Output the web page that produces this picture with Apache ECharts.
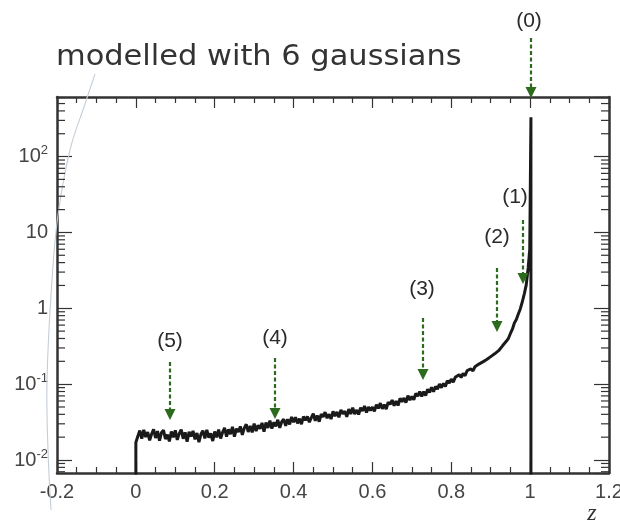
<!DOCTYPE html>
<html>
<head>
<meta charset="utf-8">
<script src="https://cdn.jsdelivr.net/npm/echarts@6/dist/echarts.min.js"></script>
<style>
html,body{margin:0;padding:0;background:#fff;}
#chart{width:620px;height:527px;}
</style>
</head>
<body>
<div id="chart"></div>
<script>
// ---- data ----
const zLow = [0.000,0.005,0.010,0.015,0.020,0.025,0.030,0.035,0.040,0.045,0.050,0.055,0.060,0.065,0.070,0.075,0.080,0.085,0.090,0.095,
0.100,0.105,0.110,0.115,0.120,0.125,0.130,0.135,0.140,0.145,0.150,0.155,0.160,0.165,0.170,0.175,0.180,0.185,0.190,0.195,
0.200,0.205,0.210,0.215,0.220,0.225,0.230,0.235,0.240,0.245,0.250,0.255,0.260,0.265,0.270,0.275,0.280,0.285,0.290,0.295,
0.300,0.305,0.310,0.315,0.320,0.325,0.330,0.335,0.340,0.345,0.350,0.355,0.360,0.365,0.370,0.375,0.380,0.385,0.390,0.395,
0.400,0.405,0.410,0.415,0.420,0.425,0.430,0.435,0.440,0.445,0.450,0.455,0.460,0.465,0.470,0.475,0.480,0.485,0.490,0.495,
0.500,0.505,0.510,0.515,0.520,0.525,0.530,0.535,0.540,0.545,0.550,0.555,0.560,0.565,0.570,0.575,0.580,0.585,0.590,0.595,0.600];
const densityLow = [0.0170,0.0206,0.0244,0.0191,0.0250,0.0201,0.0233,0.0182,0.0220,0.0254,
0.0195,0.0240,0.0180,0.0229,0.0248,0.0189,0.0216,0.0176,0.0237,0.0199,
0.0246,0.0184,0.0223,0.0252,0.0191,0.0231,0.0174,0.0235,0.0204,0.0242,
0.0187,0.0227,0.0172,0.0218,0.0244,0.0193,0.0250,0.0197,0.0225,0.0178,
0.0237,
0.0199,0.0251,0.0192,0.0232,0.0265,0.0203,0.0253,0.0219,0.0273,0.0203,
0.0259,0.0234,0.0277,0.0214,0.0263,0.0296,0.0234,0.0282,0.0231,0.0301,
0.0241,0.0287,0.0259,0.0308,0.0237,0.0312,0.0265,0.0331,0.0259,0.0314,
0.0279,0.0339,0.0265,0.0319,0.0344,0.0282,0.0345,0.0295,0.0369,0.0314,
0.0366,0.0304,0.0351,0.0297,0.0374,0.0334,0.0375,0.0315,0.0361,0.0407,
0.0329,0.0386,0.0320,0.0404,0.0371,0.0428,0.0356,0.0401,0.0347,0.0437,
0.0378,0.0430,0.0365,0.0459,0.0406,0.0439,0.0371,0.0469,0.0404,0.0490,
0.0403,0.0456,0.0398,0.0488,0.0442,0.0516,0.0423,0.0498,0.0450,0.0498];
const zMid = [0.605,0.610,0.615,0.620,0.625,0.630,0.635,0.640,0.645,0.650,0.655,0.660,0.665,0.670,0.675,0.680,0.685,0.690,0.695,0.700,
0.705,0.710,0.715,0.720,0.725,0.730,0.735,0.740,0.745,0.750,0.755,0.760,0.765,0.770,0.775,0.780,0.785,0.790,0.795,0.800,
0.805,0.810,0.815,0.820,0.825,0.830,0.835,0.840,0.845,0.850,0.855,0.860,0.865,0.870,0.875,0.880,0.885,0.890,0.895,0.900];
const densityMid = [0.0439,0.0536,0.0479,0.0562,0.0472,0.0536,0.0470,0.0578,0.0543,0.0616,
0.0521,0.0599,0.0523,0.0651,0.0585,0.0657,0.0569,0.0707,0.0617,0.0687,
0.0622,0.0754,0.0694,0.0796,0.0689,0.0797,0.0706,0.0858,0.0780,0.0907,
0.0795,0.0932,0.0859,0.1003,0.0898,0.1021,0.0929,0.1111,0.1035,0.1162,
0.1064,0.1229,0.1160,0.1334,0.1224,0.1383,0.1292,0.1505,0.1421,0.1586,
0.1492,0.1695,0.1622,0.1838,0.1765,0.1966,0.1882,0.2111,0.2087,0.2307];
const zHigh = [0.905,0.910,0.915,0.920,0.925,0.930,0.935,0.940,0.945,0.950,0.955,0.960,0.965,0.970,0.975,0.980,0.985,0.990,0.995,0.999];
const densityHigh = [0.228,0.251,0.252,0.276,0.285,0.320,0.330,0.370,0.402,0.466,0.530,0.640,0.712,0.840,0.980,1.210,1.540,2.020,3.400,6.000];
const zPeak = 1.002;        // delta peak position (0)
const peakDensity = 330;     // height of the peak
const floorDensity = 0.001;  // empty bins (below the axis range)

const xTicks = ['-0.2','0','0.2','0.4','0.6','0.8','1','1.2'];
const yMin = 0.00674, yMax = 610;
const xMin = -0.2, xMax = 1.2;

// annotation labels
const arrowLabels = ['(0)','(1)','(2)','(3)','(4)','(5)'];
const titleText = 'modelled with 6 gaussians';

// ---- build series data ----
const curve = [[0, floorDensity]];
zLow.forEach((z,i)=>curve.push([z, densityLow[i]]));
zMid.forEach((z,i)=>curve.push([z, densityMid[i]]));
zHigh.forEach((z,i)=>curve.push([z, densityHigh[i]]));
curve.push([zPeak, peakDensity]);
curve.push([zPeak, floorDensity]);

// minor log ticks 2..9 x 10^k inside the range
const minorY = [];
for (let e = -3; e <= 2; e++) {
  for (let m = 2; m <= 9; m++) {
    const v = m * Math.pow(10, e);
    if (v > yMin && v < yMax) minorY.push([xMin, v]);
  }
}

function yLabel(value) {
  const l = Math.log10(value);
  const e = Math.round(l);
  if (Math.abs(l - e) > 1e-6) return '';
  if (e === 0) return '1';
  if (e === 1) return '10';
  return '10{s|' + (e < 0 ? '-' + (-e) : e) + '}';
}

const chart = echarts.init(document.getElementById('chart'));
const axisColor = '#333';
const labelFont = 'Liberation Sans, Arial, Helvetica, sans-serif';

const option = {
  animation: false,
  backgroundColor: '#fff',
  grid: { left: 57, right: 11, top: 97, bottom: 54, containLabel: false, outerBoundsMode: 'none' },
  xAxis: [
    {
      type: 'value', min: xMin, max: xMax, interval: 0.2, position: 'bottom',
      axisLine: { show: true, onZero: false, lineStyle: { color: axisColor, width: 2.5 } },
      axisTick: { show: true, inside: true, length: 11, lineStyle: { color: axisColor, width: 1.2 } },
      minorTick: { show: true, splitNumber: 4, length: 6, lineStyle: { color: axisColor, width: 1.2 } },
      splitLine: { show: false },
      axisLabel: {
        margin: 9, color: '#444', fontSize: 20, fontFamily: labelFont,
        formatter: (v) => { const i = Math.round((v - xMin) / 0.2); return xTicks[i] !== undefined ? xTicks[i] : ''; }
      }
    },
    {
      type: 'value', min: xMin, max: xMax, interval: 0.2, position: 'top',
      axisLine: { show: true, onZero: false, lineStyle: { color: axisColor, width: 2.5 } },
      axisTick: { show: true, inside: true, length: 11, lineStyle: { color: axisColor, width: 1.2 } },
      minorTick: { show: true, splitNumber: 4, length: 6, lineStyle: { color: axisColor, width: 1.2 } },
      splitLine: { show: false },
      axisLabel: { show: false }
    }
  ],
  yAxis: [
    {
      type: 'log', logBase: 10, min: yMin, max: yMax, position: 'left',
      axisLine: { show: true, onZero: false, lineStyle: { color: axisColor, width: 2.5 } },
      axisTick: { show: true, inside: true, length: 15, lineStyle: { color: axisColor, width: 1.2 } },
      splitLine: { show: false },
      axisLabel: {
        margin: 9, color: '#444', fontSize: 20, fontFamily: labelFont,
        showMinLabel: false, showMaxLabel: false,
        formatter: yLabel,
        rich: { s: { fontSize: 13, fontFamily: labelFont, color: '#444', verticalAlign: 'top', padding: [0, 0, 12, 0] } }
      }
    },
    {
      type: 'log', logBase: 10, min: yMin, max: yMax, position: 'right',
      axisLine: { show: true, onZero: false, lineStyle: { color: axisColor, width: 2.5 } },
      axisTick: { show: true, inside: true, length: 15, lineStyle: { color: axisColor, width: 1.2 } },
      splitLine: { show: false },
      axisLabel: { show: false }
    }
  ],
  series: [
    {
      type: 'line', xAxisIndex: 0, yAxisIndex: 0, data: curve,
      showSymbol: false, symbol: 'none', clip: true,
      lineStyle: { color: '#1a1a1a', width: 3 },
      z: 3
    },
    {
      type: 'custom', xAxisIndex: 0, yAxisIndex: 0, data: minorY, silent: true, clip: false,
      renderItem: function (params, api) {
        const v = api.value(1);
        const pl = api.coord([xMin, v]);
        const pr = api.coord([xMax, v]);
        return {
          type: 'group',
          children: [
            { type: 'line', shape: { x1: pl[0], y1: pl[1], x2: pl[0] + 8, y2: pl[1] }, style: { stroke: axisColor, lineWidth: 1.2 } },
            { type: 'line', shape: { x1: pr[0], y1: pr[1], x2: pr[0] - 8, y2: pr[1] }, style: { stroke: axisColor, lineWidth: 1.2 } }
          ]
        };
      },
      z: 4
    }
  ]
};
chart.setOption(option);

// ---- annotations (pixel placement of the picture's arrows) ----
const green = '#2c6b1e';
const arrowGeom = [
  { lx: 529, ly: 21, x: 531, y1: 38, y2: 98 },
  { lx: 515, ly: 197, x: 523, y1: 220, y2: 284 },
  { lx: 497, ly: 237, x: 497, y1: 268, y2: 332 },
  { lx: 422, ly: 289, x: 423, y1: 318, y2: 380 },
  { lx: 275, ly: 338, x: 275, y1: 358, y2: 419 },
  { lx: 170, ly: 341, x: 170, y1: 362, y2: 420 }
];
const gfx = [];
arrowGeom.forEach((a, i) => {
  gfx.push({ type: 'line', shape: { x1: a.x, y1: a.y1, x2: a.x, y2: a.y2 - 9 },
    style: { stroke: green, lineWidth: 2.2, lineDash: [4, 2.5] }, z: 10 });
  gfx.push({ type: 'polygon', shape: { points: [[a.x - 5.5, a.y2 - 11], [a.x + 5.5, a.y2 - 11], [a.x, a.y2]] },
    style: { fill: green }, z: 10 });
  gfx.push({ type: 'text', x: a.lx, y: a.ly, z: 11,
    style: { text: arrowLabels[i], fill: '#2a2a2a', font: '21px ' + labelFont, textAlign: 'center', textVerticalAlign: 'middle' } });
});
// title
gfx.push({ type: 'text', x: 56, y: 57, z: 11, scaleX: 1.05,
  style: { text: titleText, fill: '#333', font: '29px "DejaVu Sans", sans-serif', textAlign: 'left', textVerticalAlign: 'middle' } });
// axis name z
gfx.push({ type: 'text', x: 592, y: 514, z: 11,
  style: { text: 'z', fill: '#333', font: 'italic 24px "Liberation Serif", "DejaVu Serif", serif', textAlign: 'center', textVerticalAlign: 'middle' } });
// faint bracket line
gfx.push({ type: 'polyline', z: 1, shape: { smooth: 0.4, points: [[95,74],[85,104],[70,150],[58,215],[52,280],[47,380],[48,450],[51,510]] },
  style: { stroke: '#c5ced6', lineWidth: 1.1, fill: null } });
chart.setOption({ graphic: gfx });
</script>
</body>
</html>
